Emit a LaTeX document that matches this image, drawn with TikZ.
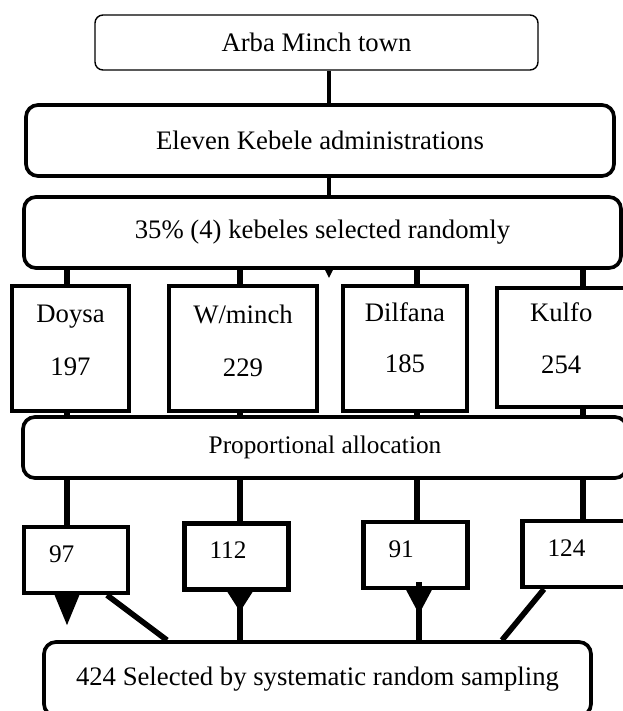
\documentclass[tikz,border=0pt]{standalone}
\usepackage{fontspec}
\setmainfont{Liberation Serif}
\usetikzlibrary{positioning}

\begin{document}
\begin{tikzpicture}[every node/.style={align=center, font=\fontsize{19}{23}\selectfont},
	thinbox/.style={draw, line width=1pt, rounded corners=0.2cm},
	thickbox/.style={draw, line width=2.6pt, rounded corners=0.3cm},
	kebelebox/.style={draw, line width=2.8pt, minimum height=3.125cm, text depth=0.4cm},
	samplebox/.style={draw, line width=3pt, minimum height=1.65cm, text width=1.35cm, inner xsep=0.625cm, text depth=0.3cm, align=left, font=\fontsize{18}{22}\selectfont},
	link/.style={line width=4pt}]

			\useasboundingbox (0,0) rectangle (15.55,-17.775);
			% Columns of the connectors
			\coordinate (spine) at (8.225,0);
			\coordinate (c1) at (1.675,0);
			\coordinate (c2) at (6.0,0);
			\coordinate (c3) at (10.425,0);
			\coordinate (c4) at (14.575,0);
			% Upper rows
			\node[thinbox, minimum width=11.075cm, minimum height=1.375cm] (town) at (7.9125,-1.0625) {Arba Minch town};
			\node[thickbox, minimum width=14.7cm, minimum height=1.775cm] (admin) at (8.0,-3.5125) {Eleven Kebele administrations};
			\node[thickbox, minimum width=14.925cm, minimum height=1.775cm] (selected) at (8.0625,-5.8125) {35\% (4) kebeles selected randomly};
			\draw[line width=2.6pt] (town.south -| spine) -- (admin.north -| spine);
			\draw[line width=2.6pt] (admin.south -| spine) -- (selected.north -| spine);
			% Kebele row
			\node[kebelebox, minimum width=2.925cm] (doysa) at (1.7625,-8.7125) {Doysa\\[15pt]197};
			\node[kebelebox, minimum width=3.7cm] (wminch) at (6.075,-8.7125) {W/minch\\[15pt]229};
			\node[kebelebox, minimum width=3.1cm, text depth=0.55cm] (dilfana) at (10.125,-8.7125) {Dilfana\\[13pt]185};
			\node[kebelebox, minimum width=3.2cm, minimum height=2.975cm, text depth=0.45cm] (kulfo) at (14.03,-8.6875) {Kulfo\\[14pt]254};
			% Allocation
			\node[thickbox, minimum width=15.1cm, minimum height=1.525cm, font=\fontsize{18}{22}\selectfont] (prop) at (8.125,-11.1875) {Proportional allocation};
			\foreach \kb/\col in {doysa/c1, wminch/c2, dilfana/c3, kulfo/c4} {
				\draw[link] (selected.south -| \col) -- (\kb.north -| \col);
				\draw[link] (\kb.south -| \col) -- (prop.north -| \col);
			}
			% Sample row
			\node[samplebox] (n97) at (1.9,-14.0) {97};
			\node[samplebox] (n112) at (5.9125,-13.9125) {112};
			\node[samplebox] (n91) at (10.3875,-13.875) {91};
			\node[samplebox] (n124) at (14.3625,-13.85) {124};
			\foreach \sb/\col in {n97/c1, n112/c2, n91/c3, n124/c4}
				\draw[link] (prop.south -| \col) -- (\sb.north -| \col);
			% Bottom box
			\node[thickbox, minimum width=13.675cm, minimum height=1.85cm] (bottom) at (7.9375,-16.975) {424 Selected by systematic random sampling};
			\coordinate (d1) at (2.675,0);
			\coordinate (d2) at (4.175,0);
			\coordinate (d3) at (13.6,0);
			\coordinate (d4) at (12.55,0);
			\coordinate (c3b) at (10.475,0);
			\draw[link] (n97.south -| d1) -- (bottom.north -| d2);
			\draw[link] (n112.south -| c2) -- (bottom.north -| c2);
			\draw[link] (n91.south -| c3b) ++(0,0.2) -- (bottom.north -| c3b);
			\draw[link] (n124.south -| d3) -- (bottom.north -| d4);
			% Arrow heads
			\fill (selected.south -| spine) ++(-0.1,0) -- ++(0.2,0) -- ++(-0.1,-0.2) -- cycle;
			\fill (n97.south -| c1) ++(-0.31,0) -- ++(0.62,0) -- ++(-0.31,-0.75) -- cycle;
			\fill (n112.south -| c2) ++(-0.32,0) -- ++(0.64,0) -- ++(-0.32,-0.5) -- cycle;
			\fill (n91.south -| c3b) ++(-0.32,0) -- ++(0.64,0) -- ++(-0.32,-0.6) -- cycle;
		\end{tikzpicture}
\end{document}
